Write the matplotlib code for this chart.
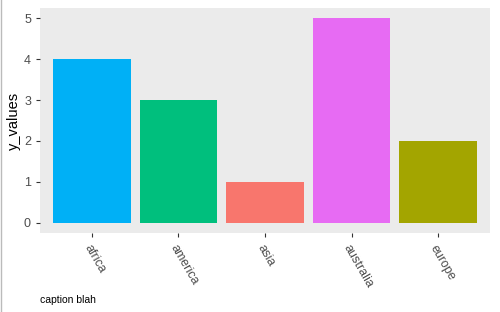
import matplotlib
matplotlib.use("Agg")
import matplotlib.pyplot as plt

regions = ["africa", "america", "asia", "australia", "europe"]
y_values = [4, 3, 1, 5, 2]
colors = ["#00B0F6", "#00BF7D", "#F8766D", "#E76BF3", "#A3A500"]

plt.rcParams['font.family'] = ['Liberation Sans', 'DejaVu Sans']

fig = plt.figure(figsize=(5, 3.12), dpi=100)
ax = fig.add_axes([40/500, 1 - 233/312, 450/500, 225/312])
ax.set_facecolor("#EBEBEB")

x = range(len(regions))
ax.bar(x, y_values, width=0.9, color=colors)

ax.set_xlim(-0.6, len(regions) - 0.4)
ax.set_ylim(-0.25, 5.25)
ax.set_xticks(list(x))
ax.set_xticklabels(regions, rotation=-60, ha="left", va="top",
                   rotation_mode="anchor", fontsize=9, color="#4D4D4D")
ax.set_yticks([0, 1, 2, 3, 4, 5])
ax.tick_params(axis="y", labelsize=9, labelcolor="#4D4D4D")
ax.tick_params(axis="x", pad=4)
ax.tick_params(length=3, width=0.8, color="#333333")
for s in ax.spines.values():
    s.set_visible(False)

ax.set_ylabel("y_values", fontsize=10.5, labelpad=2)
fig.text(40/500, 1 - 300/312, "caption blah", fontsize=7.5, va="center")

# thin grey border on the left edge, as in the reference
fig.add_artist(plt.Line2D([0.001, 0.001], [0, 1], color="#BBBBBB", lw=1))

fig.savefig("out.png")
